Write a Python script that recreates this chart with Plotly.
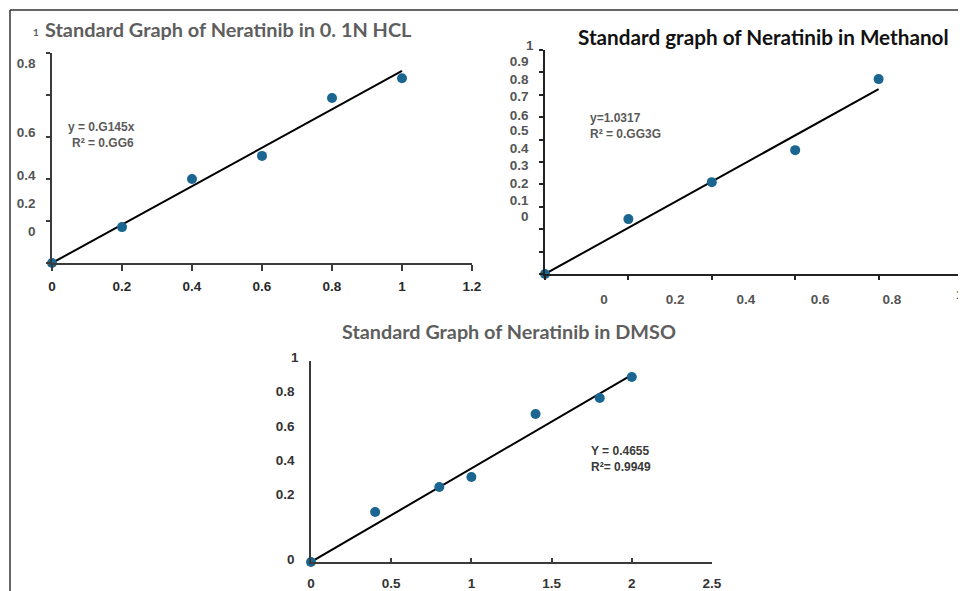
import plotly.graph_objects as go

W, H = 966, 591
OFF = 8  # default page body margin; figure is sized so it fills the window exactly
FW, FH = W - OFF, H - OFF

# ---------------- data ----------------
# Chart 1: 0.1N HCL
hcl_conc = [0, 0.2, 0.4, 0.6, 0.8, 1.0]
hcl_abs = [0, 0.171, 0.40, 0.51, 0.786, 0.88]
hcl_fit_x = [0, 1.0]
hcl_fit_y = [0, 0.9145]
hcl_xtick_vals = [0, 0.2, 0.4, 0.6, 0.8, 1.0, 1.2]
hcl_xtick_text = ["0", "0.2", "0.4", "0.6", "0.8", "1", "1.2"]
hcl_ytick_marks = [0, 0.2, 0.4, 0.6, 0.8, 1.0]
hcl_ylabel_pos = [0.152, 0.286, 0.419, 0.624, 0.952]
hcl_ylabel_text = ["0", "0.2", "0.4", "0.6", "0.8"]

# Chart 2: Methanol
meoh_conc = [0, 0.2, 0.4, 0.6, 0.8]
meoh_abs = [0, 0.245, 0.41, 0.553, 0.87]
meoh_fit_x = [0, 0.8]
meoh_fit_y = [0, 0.8254]
meoh_xtick_marks = [0, 0.2, 0.4, 0.6, 0.8, 1.0]
meoh_xlabel_pos = [0.1415, 0.312, 0.482, 0.66, 0.832]
meoh_xlabel_text = ["0", "0.2", "0.4", "0.6", "0.8"]
meoh_ytick_marks = [0, 0.1, 0.2, 0.3, 0.4, 0.5, 0.6, 0.7, 0.8, 0.9, 1.0]
meoh_ylabel_pos = [0.259, 0.33, 0.406, 0.487, 0.5625, 0.64, 0.71, 0.795, 0.87, 0.95]
meoh_ylabel_text = ["0", "0.1", "0.2", "0.3", "0.4", "0.5", "0.6", "0.7", "0.8", "0.9"]

# Chart 3: DMSO
dmso_conc = [0, 0.4, 0.8, 1.0, 1.4, 1.8, 2.0]
dmso_abs = [0, 0.249, 0.373, 0.423, 0.736, 0.816, 0.92]
dmso_fit_x = [0, 2.0]
dmso_fit_y = [0, 0.931]
dmso_xtick_vals = [0, 0.5, 1, 1.5, 2, 2.5]
dmso_xtick_text = ["0", "0.5", "1", "1.5", "2", "2.5"]
dmso_ylabel_pos = [0.015, 0.338, 0.507, 0.677, 0.85]
dmso_ylabel_text = ["0", "0.2", "0.4", "0.6", "0.8"]

# ---------------- helpers ----------------
def px(x):
    return (x - OFF) / FW

def py(y):
    return 1 - (y - OFF) / FH

MARK = "#1a6690"
AXC = "#3a3a3a"
LBL = "#555555"
TITLE_FONT = "Lato"
NUM_FONT = "Liberation Sans"

fig = go.Figure()

def add_series(xs, ys, fx, fy, xa, ya):
    fig.add_trace(go.Scatter(x=fx, y=fy, mode="lines", xaxis=xa, yaxis=ya,
                             line=dict(color="black", width=2), showlegend=False,
                             hoverinfo="skip"))
    fig.add_trace(go.Scatter(x=xs, y=ys, mode="markers", xaxis=xa, yaxis=ya,
                             marker=dict(color=MARK, size=10, line=dict(width=0)),
                             cliponaxis=False, showlegend=False))

add_series(hcl_conc, hcl_abs, hcl_fit_x, hcl_fit_y, "x", "y")
add_series(meoh_conc, meoh_abs, meoh_fit_x, meoh_fit_y, "x2", "y2")
add_series(dmso_conc, dmso_abs, dmso_fit_x, dmso_fit_y, "x3", "y3")

numfont = lambda c=LBL, s=13.5: dict(family=NUM_FONT, size=s, color=c, weight="bold")

common = dict(showline=True, linewidth=1.5, showgrid=False, zeroline=False, automargin=False,
              ticklabeloverflow="allow")

layout = dict(
    template="none",
    width=FW, height=FH, margin=dict(l=0, r=0, t=0, b=0, autoexpand=False),
    paper_bgcolor="white", plot_bgcolor="white", showlegend=False,
    # chart 1
    xaxis=dict(domain=[px(52), px(472)], range=[0, 1.2], anchor="y", linecolor=AXC,
               ticks="outside", ticklen=6, tickcolor=AXC, tickwidth=1.5,
               tickmode="array", tickvals=hcl_xtick_vals, ticktext=hcl_xtick_text,
               tickfont=numfont("#2a2a2a"), ticklabelstandoff=4, **common),
    yaxis=dict(domain=[py(263), py(53)], range=[0, 1], anchor="x", linecolor=AXC,
               ticks="", tickmode="array", tickvals=hcl_ylabel_pos, ticktext=hcl_ylabel_text,
               tickfont=numfont(LBL), ticklabelstandoff=12,
               minor=dict(tickmode="array", tickvals=hcl_ytick_marks, ticks="outside",
                          ticklen=4, tickcolor=AXC, tickwidth=1.5, showgrid=False), **common),
    # chart 2
    xaxis2=dict(domain=[px(545), px(962)], range=[0, 1], anchor="y2", linecolor="#222222",
                ticks="", tickmode="array", tickvals=meoh_xlabel_pos, ticktext=meoh_xlabel_text,
                tickfont=numfont(LBL), ticklabelstandoff=12,
                minor=dict(tickmode="array", tickvals=meoh_xtick_marks, ticks="outside",
                           ticklen=4, tickcolor="#222222", tickwidth=1.5, showgrid=False), **common),
    yaxis2=dict(domain=[py(274), py(50)], range=[0, 1], anchor="x2", linecolor="#222222",
                ticks="", tickmode="array", tickvals=meoh_ylabel_pos, ticktext=meoh_ylabel_text,
                tickfont=numfont(LBL), ticklabelstandoff=12,
                minor=dict(tickmode="array", tickvals=meoh_ytick_marks, ticks="outside",
                           ticklen=4, tickcolor="#222222", tickwidth=1.5, showgrid=False), **common),
    # chart 3
    xaxis3=dict(domain=[px(311), px(712)], range=[0, 2.5], anchor="y3", linecolor=AXC,
                ticks="inside", ticklen=4, tickcolor=AXC, tickwidth=1.5,
                tickmode="array", tickvals=dmso_xtick_vals, ticktext=dmso_xtick_text,
                tickfont=numfont("#333333"), ticklabelstandoff=8, **common),
    yaxis3=dict(domain=[py(562), py(361)], range=[0, 1], anchor="x3", linecolor=AXC,
                ticks="", tickmode="array", tickvals=dmso_ylabel_pos, ticktext=dmso_ylabel_text,
                tickfont=numfont("#333333"), ticklabelstandoff=12, **common),
)
fig.update_layout(**layout)

ann = []
def A(text, x, y, size=12, color=LBL, family=NUM_FONT, weight="normal", xanchor="left"):
    ann.append(dict(text=text, x=px(x), y=py(y), xref="paper", yref="paper",
                    xanchor=xanchor, yanchor="middle", showarrow=False, borderpad=0,
                    font=dict(family=family, size=size, color=color, weight=weight)))

# titles
A("Standard Graph of Neratinib in 0. 1N HCL", 44, 29, size=19.9, color="#5e5e5e",
  family=TITLE_FONT, weight="bold")
A("1", 36, 32, size=10, color="#5e5e5e", family=TITLE_FONT, weight="bold", xanchor="center")
A("Standard graph of Neratinib in Methanol", 577, 37, size=20.7, color="#111111",
  family=TITLE_FONT, weight="bold")
A("Standard Graph of Neratinib in DMSO", 341, 331, size=19.8, color="#5e5e5e",
  family=TITLE_FONT, weight="bold")

# axis-end "1" labels
A("1", 530, 45, size=13.5, color=LBL, weight="bold", xanchor="center")
A("1", 295, 357, size=13.5, color="#333333", weight="bold", xanchor="center")
A("1", 965, 294, size=13.5, color=LBL, weight="bold", xanchor="right")

# equations
A("y = 0.G145x", 67, 127, size=12, color="#5a5a5a", weight="bold")
A("R² = 0.GG6", 71, 143, size=12, color="#5a5a5a", weight="bold")
A("y=1.0317", 589, 118, size=12, color="#5a5a5a", weight="bold")
A("R² = 0.GG3G", 589, 134, size=12, color="#5a5a5a", weight="bold")
A("Y = 0.4655", 590, 451, size=12, color="#3a3a3a", weight="bold")
A("R²= 0.9949", 590, 467, size=12, color="#3a3a3a", weight="bold")

fig.update_layout(annotations=ann)

# outer frame (top and left edges)
fig.add_shape(type="line", xref="paper", yref="paper", x0=px(10), y0=py(10), x1=1, y1=py(10),
              line=dict(color="#333333", width=1.5))
fig.add_shape(type="line", xref="paper", yref="paper", x0=px(10), y0=py(10), x1=px(10), y1=0,
              line=dict(color="#333333", width=1.5))

fig.write_html("out.html")
